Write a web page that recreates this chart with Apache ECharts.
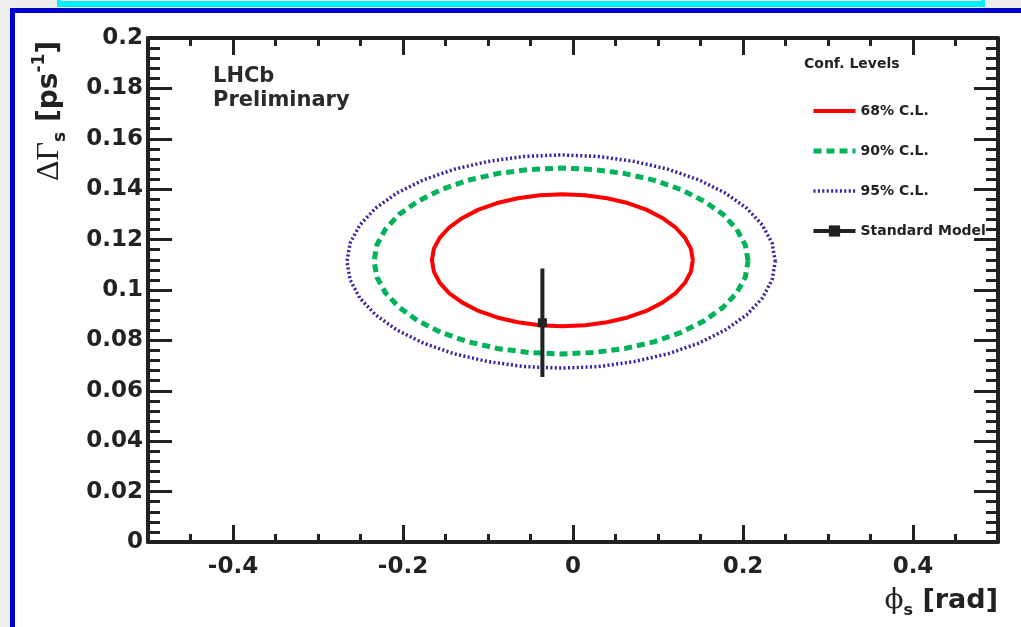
<!DOCTYPE html>
<html>
<head>
<meta charset="utf-8">
<script src="https://cdn.jsdelivr.net/npm/echarts@6/dist/echarts.min.js"></script>
<style>
  html, body { margin:0; padding:0; width:1021px; height:627px; overflow:hidden; background:#eeeeee; }
  #cyan { position:absolute; left:57px; top:-14px; width:920px; height:11px; border:4px solid #00f0ff; border-bottom-width:6px; background:#ffffff; }
  #frame { position:absolute; left:10px; top:8px; width:1100px; height:700px; border-left:5px solid #0000cc; border-top:5px solid #0000cc; background:#ffffff; }
  #chart { position:absolute; left:0; top:0; width:1021px; height:627px; }
</style>
</head>
<body>
<div id="cyan"></div>
<div id="frame"></div>
<div id="chart"></div>
<script>
// ---- data ----
const legendNames = ['68% C.L.', '90% C.L.', '95% C.L.', 'Standard Model'];
const xMajorTicks = [-0.4, -0.2, 0, 0.2, 0.4];

const contour68 = [
  [0.1410,0.1118],[0.1387,0.1164],[0.1317,0.1208],[0.1204,0.1249],[0.1051,0.1286],[0.0862,0.1319],
  [0.0643,0.1345],[0.0400,0.1364],[0.0141,0.1376],[-0.0125,0.1380],[-0.0391,0.1376],[-0.0650,0.1364],
  [-0.0893,0.1345],[-0.1112,0.1319],[-0.1301,0.1286],[-0.1454,0.1249],[-0.1567,0.1208],[-0.1637,0.1164],
  [-0.1660,0.1118],[-0.1637,0.1073],[-0.1567,0.1028],[-0.1454,0.0987],[-0.1301,0.0950],[-0.1112,0.0917],
  [-0.0893,0.0891],[-0.0650,0.0872],[-0.0391,0.0860],[-0.0125,0.0856],[0.0141,0.0860],[0.0400,0.0872],
  [0.0643,0.0891],[0.0862,0.0917],[0.1051,0.0950],[0.1204,0.0987],[0.1317,0.1028],[0.1387,0.1073],
  [0.1410,0.1118]
];
const contour90 = [
  [0.2060,0.1115],[0.2027,0.1179],[0.1927,0.1241],[0.1765,0.1300],[0.1545,0.1352],[0.1274,0.1398],
  [0.0960,0.1435],[0.0612,0.1462],[0.0242,0.1478],[-0.0140,0.1484],[-0.0522,0.1478],[-0.0892,0.1462],
  [-0.1240,0.1435],[-0.1554,0.1398],[-0.1825,0.1352],[-0.2045,0.1300],[-0.2207,0.1241],[-0.2307,0.1179],
  [-0.2340,0.1115],[-0.2307,0.1051],[-0.2207,0.0989],[-0.2045,0.0931],[-0.1825,0.0878],[-0.1554,0.0832],
  [-0.1240,0.0795],[-0.0892,0.0768],[-0.0522,0.0752],[-0.0140,0.0746],[0.0242,0.0752],[0.0612,0.0768],
  [0.0960,0.0795],[0.1274,0.0832],[0.1545,0.0878],[0.1765,0.0931],[0.1927,0.0989],[0.2027,0.1051],
  [0.2060,0.1115]
];
const contour95 = [
  [0.2380,0.1113],[0.2342,0.1186],[0.2228,0.1258],[0.2042,0.1325],[0.1790,0.1385],[0.1480,0.1437],
  [0.1120,0.1479],[0.0722,0.1510],[0.0297,0.1530],[-0.0140,0.1536],[-0.0577,0.1530],[-0.1002,0.1510],
  [-0.1400,0.1479],[-0.1760,0.1437],[-0.2070,0.1385],[-0.2322,0.1325],[-0.2508,0.1258],[-0.2622,0.1186],
  [-0.2660,0.1113],[-0.2622,0.1040],[-0.2508,0.0968],[-0.2322,0.0901],[-0.2070,0.0841],[-0.1760,0.0789],
  [-0.1400,0.0747],[-0.1002,0.0716],[-0.0577,0.0696],[-0.0140,0.0690],[0.0297,0.0696],[0.0722,0.0716],
  [0.1120,0.0747],[0.1480,0.0789],[0.1790,0.0841],[0.2042,0.0901],[0.2228,0.0968],[0.2342,0.1040],
  [0.2380,0.1113]
];
const smPhi = -0.036;
const smDeltaGamma = 0.087;
const smError = 0.0215;

// ---- styling ----
const AX = '#222222';
const SANS = 'DejaVu Sans';
const tickLabelStyle = { fontFamily: SANS, fontWeight: 'bold', fontSize: 23, color: AX };

function xAxisPair(pos, withLabels) {
  return [
    { type:'value', position:pos, min:-0.5, max:0.5, interval:0.05,
      axisLine:{ show:true, onZero:false, lineStyle:{ color:AX, width:4 } },
      axisTick:{ show:true, inside:true, length:8, lineStyle:{ color:AX, width:3 } },
      axisLabel: withLabels ? Object.assign({ show:true, customValues:xMajorTicks, margin:14 }, tickLabelStyle) : { show:false },
      splitLine:{ show:false } },
    { type:'value', position:pos, min:-0.5, max:0.5,
      axisLine:{ show:false, onZero:false },
      axisTick:{ show:true, inside:true, length:17, customValues:xMajorTicks, lineStyle:{ color:AX, width:3 } },
      axisLabel:{ show:false },
      splitLine:{ show:false } }
  ];
}
function yAxisDef(pos, withLabels) {
  return { type:'value', position:pos, min:0, max:0.2, interval:0.02,
    axisLine:{ show:true, onZero:false, lineStyle:{ color:AX, width:4 } },
    axisTick:{ show:true, inside:true, length:24, lineStyle:{ color:AX, width:3 } },
    minorTick:{ show:true, splitNumber:5, length:12, lineStyle:{ color:AX, width:3 } },
    axisLabel: withLabels ? Object.assign({ show:true, margin:5 }, tickLabelStyle) : { show:false },
    splitLine:{ show:false }, minorSplitLine:{ show:false } };
}

const noMarker = { color:'transparent', opacity:0, borderWidth:0 };

const chart = echarts.init(document.getElementById('chart'), null, { renderer:'canvas' });
chart.setOption({
  backgroundColor:'transparent',
  animation:false,
  grid:{ left:148, right:23, top:38, bottom:85, containLabel:false, outerBoundsMode:'none' },
  xAxis: [].concat(xAxisPair('bottom', true), xAxisPair('top', false)),
  yAxis: [ yAxisDef('left', true), yAxisDef('right', false) ],
  legend:{
    orient:'vertical', left:806, top:99, itemWidth:42, itemHeight:14, itemGap:26,
    selectedMode:false,
    data:[
      { name:legendNames[0], itemStyle:noMarker },
      { name:legendNames[1], itemStyle:noMarker },
      { name:legendNames[2], itemStyle:noMarker },
      { name:legendNames[3] }
    ],
    lineStyle:{ width:'inherit' },
    textStyle:{ fontFamily:SANS, fontWeight:'bold', fontSize:14, color:AX }
  },
  series:[
    { name:legendNames[0], type:'line', xAxisIndex:0, yAxisIndex:0, data:contour68, symbol:'none', smooth:false,
      lineStyle:{ color:'#ff0000', width:4 }, itemStyle:{ color:'#ff0000' }, z:3 },
    { name:legendNames[1], type:'line', xAxisIndex:0, yAxisIndex:0, data:contour90, symbol:'none',
      lineStyle:{ color:'#00b25a', width:5, type:[8,5] }, itemStyle:{ color:'#00b25a' }, z:3 },
    { name:legendNames[2], type:'line', xAxisIndex:0, yAxisIndex:0, data:contour95, symbol:'none',
      lineStyle:{ color:'#3322a0', width:3.5, type:[2,2.4] }, itemStyle:{ color:'#3322a0' }, z:3 },
    { name:legendNames[3], type:'line', xAxisIndex:0, yAxisIndex:0, symbol:'rect', symbolSize:9,
      lineStyle:{ color:AX, width:4 }, itemStyle:{ color:AX }, z:4,
      data:[
        { value:[smPhi, smDeltaGamma - smError], symbol:'none' },
        { value:[smPhi, smDeltaGamma] },
        { value:[smPhi, smDeltaGamma + smError], symbol:'none' }
      ] }
  ],
  graphic:[
    { type:'text', left:213, top:65, silent:true,
      style:{ text:'LHCb\nPreliminary', fontFamily:SANS, fontWeight:'bold', fontSize:21, lineHeight:24, fill:'#2a2a2a' } },
    { type:'text', left:804, top:57, silent:true,
      style:{ text:'Conf. Levels', fontFamily:SANS, fontWeight:'bold', fontSize:14, fill:AX } },
    { type:'text', x:50, y:181, rotation:Math.PI/2, silent:true,
      style:{ text:'{g|ΔΓ}{sub|s}{m| [ps}{sup|-1}{m|]}', align:'left', verticalAlign:'middle',
        rich:{
          g:{ fontFamily:'Liberation Serif', fontSize:32, lineHeight:38, verticalAlign:'middle', fill:AX },
          m:{ fontFamily:SANS, fontWeight:'bold', fontSize:28, lineHeight:38, verticalAlign:'middle', fill:AX },
          sub:{ fontFamily:SANS, fontWeight:'bold', fontSize:17, lineHeight:17, verticalAlign:'bottom', fill:AX },
          sup:{ fontFamily:SANS, fontWeight:'bold', fontSize:17, lineHeight:17, verticalAlign:'top', fill:AX }
        } } },
    { type:'text', x:998, y:601, silent:true,
      style:{ text:'{g|ϕ}{sub|s}{m| [rad]}', align:'right', verticalAlign:'middle',
        rich:{
          g:{ fontFamily:'DejaVu Serif', fontSize:28, lineHeight:36, verticalAlign:'middle', fill:AX },
          m:{ fontFamily:SANS, fontWeight:'bold', fontSize:27, lineHeight:36, verticalAlign:'middle', fill:AX },
          sub:{ fontFamily:SANS, fontWeight:'bold', fontSize:16, lineHeight:14, verticalAlign:'bottom', fill:AX }
        } } }
  ]
});
</script>
</body>
</html>
